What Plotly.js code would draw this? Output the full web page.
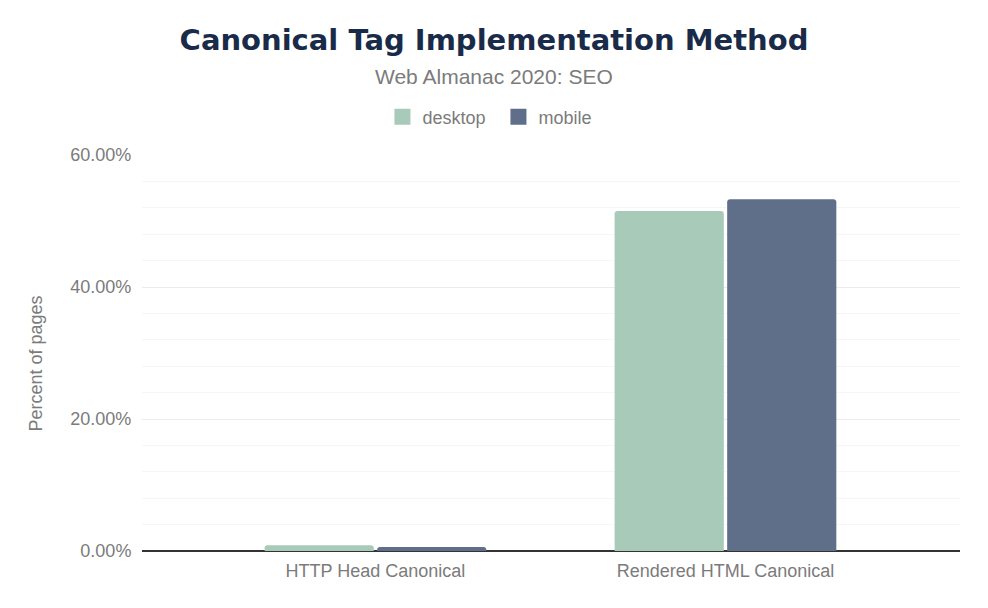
<!DOCTYPE html>
<html>
<head>
<meta charset="utf-8">
<script src="https://cdn.plot.ly/plotly-3.0.1.min.js"></script>
<style>html,body{margin:0;padding:0;background:#fff;}#chart{width:988px;height:608px;}</style>
</head>
<body>
<div id="chart"></div>
<script>
const categories = ["HTTP Head Canonical", "Rendered HTML Canonical"];
const desktopValues = [0.88, 51.5];
const mobileValues = [0.62, 53.3];
const seriesNames = ["desktop", "mobile"];
const yTickValues = [0, 20, 40, 60];
const yTickLabels = ["0.00%", "20.00%", "40.00%", "60.00%"];

const gray = "#7b7b7b";
const colors = ["#a8cab8", "#5f6f89"];
const traces = [
  {type: "bar", name: seriesNames[0], x: categories, y: desktopValues, marker: {color: colors[0]}, showlegend: false, legendgroup: "d"},
  {type: "bar", name: seriesNames[1], x: categories, y: mobileValues, marker: {color: colors[1]}, showlegend: false, legendgroup: "m"},
  {type: "scatter", mode: "markers", name: seriesNames[0], x: [null], y: [null], legendgroup: "d",
   marker: {symbol: "square", size: 17, color: colors[0]}},
  {type: "scatter", mode: "markers", name: seriesNames[1], x: [null], y: [null], legendgroup: "m",
   marker: {symbol: "square", size: 17, color: colors[1]}}
];

const layout = {
  width: 988, height: 608,
  margin: {l: 142, r: 28, t: 155, b: 57},
  paper_bgcolor: "#fff", plot_bgcolor: "#fff",
  font: {family: "Liberation Sans, Arial, sans-serif", color: gray, size: 18},
  barmode: "group", bargap: 0.357, bargroupgap: 0.03, barcornerradius: 3,
  title: {text: "Canonical Tag Implementation Method", x: 0.5, xref: "container", xanchor: "center",
          y: 1 - 40/608, yref: "container", yanchor: "middle",
          font: {family: "DejaVu Sans, sans-serif", size: 29, color: "#1a2b49", weight: "bold"}},
  annotations: [
    {text: "Web Almanac 2020: SEO", xref: "paper", yref: "paper", x: (494 - 142) / 818, y: (551 - 76) / 396,
     xanchor: "center", yanchor: "middle", showarrow: false, font: {size: 21, color: gray}},
    {text: "Percent of pages", xref: "paper", yref: "paper", x: (35 - 142) / 818, y: (551 - 363.5) / 396,
     xanchor: "center", yanchor: "middle", textangle: -90, showarrow: false, font: {size: 18, color: gray}}
  ],
  showlegend: true,
  legend: {orientation: "h", x: 0.5045, xanchor: "center", xref: "container", y: 1 - 117/608, yref: "container", yanchor: "middle",
           font: {size: 18, color: gray}, entrywidth: 71, entrywidthmode: "pixels", traceorder: "normal", itemsizing: "trace"},
  xaxis: {type: "category", range: [-0.667, 1.67], showgrid: false, ticks: "outside", ticklen: 3, tickcolor: "rgba(0,0,0,0)",
          tickfont: {size: 18, color: gray}, showline: false, fixedrange: true},
  yaxis: {range: [0, 60], tickvals: yTickValues, ticktext: yTickLabels,
          showgrid: true, gridcolor: "#ececec", gridwidth: 1,
          minor: {dtick: 4, tick0: 0, showgrid: true, gridcolor: "#f6f6f6", gridwidth: 1},
          zeroline: true, zerolinecolor: "#333", zerolinewidth: 1.5,
          tickfont: {size: 18, color: gray}, ticklen: 6, tickcolor: "rgba(0,0,0,0)", ticks: "outside"}
};

Plotly.newPlot("chart", traces, layout, {displayModeBar: false, staticPlot: true});
</script>
</body>
</html>
